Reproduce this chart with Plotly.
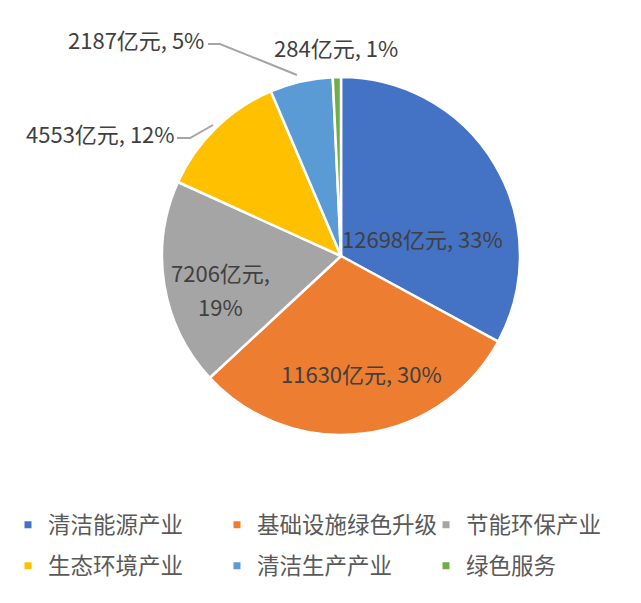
import plotly.graph_objects as go

W, H = 641, 603
OFF = 8  # page body margin in the browser

categories = ["清洁能源产业", "基础设施绿色升级", "节能环保产业", "生态环境产业", "清洁生产产业", "绿色服务"]
values = [12698, 11630, 7206, 4553, 2187, 284]
pct_labels = ["33%", "30%", "19%", "12%", "5%", "1%"]
colors = ["#4472C4", "#ED7D31", "#A5A5A5", "#FFC000", "#5B9BD5", "#70AD47"]

LABEL_FONT = "Noto Sans CJK SC, sans-serif"
LEGEND_FONT = "Noto Sans CJK SC, sans-serif"


def px(x, y):
    return (x - OFF) / W, 1 - (y - OFF) / H


fig = go.Figure()
fig.add_trace(go.Pie(
    labels=categories,
    values=values,
    sort=False,
    direction="clockwise",
    rotation=0,
    marker=dict(colors=colors, line=dict(color="white", width=2.5)),
    textinfo="none",
    hoverinfo="label+value+percent",
    showlegend=False,
    domain=dict(x=[(162 - OFF) / W, (520 - OFF) / W],
                y=[1 - (435 - OFF) / H, 1 - (77 - OFF) / H]),
))

# legend entries: small square markers, two rows of three
for i, (cat, col) in enumerate(zip(categories, colors)):
    fig.add_trace(go.Scatter(
        x=[None], y=[None], mode="markers", name=cat,
        marker=dict(symbol="square", size=7, color=col),
        legend="legend" if i < 3 else "legend2",
    ))

# label placement (pixel positions of each text line), text from the data arrays
label_pos = [
    [(423, 238)],
    [(362, 373)],
    [(220, 272), (220, 306)],
    [(100, 133)],
    [(136, 39)],
    [(336, 47)],
]
# leader lines (pixel points) for the labels pushed outside the pie
leaders = {
    3: [(177, 138), (190, 138), (213, 125)],
    4: [(208, 44), (220, 44), (297, 75)],
}

for i, (v, p, pos) in enumerate(zip(values, pct_labels, label_pos)):
    lines = [f"{v}亿元, {p}"] if len(pos) == 1 else [f"{v}亿元,", p]
    for txt, (x, y) in zip(lines, pos):
        fx, fy = px(x, y)
        fig.add_annotation(
            x=fx, y=fy, xref="paper", yref="paper", text=txt, showarrow=False,
            xanchor="center", yanchor="middle",
            font=dict(family=LABEL_FONT, size=22, color="#404040"),
        )
    if i in leaders:
        pts = [px(a, b) for a, b in leaders[i]]
        path = "M " + " L ".join(f"{a},{b}" for a, b in pts)
        fig.add_shape(type="path", path=path, xref="paper", yref="paper",
                      line=dict(color="#A5A5A5", width=2))

legend_style = dict(
    orientation="h",
    xanchor="left", yanchor="middle",
    entrywidth=164, entrywidthmode="pixels",
    font=dict(family=LEGEND_FONT, size=22.5, color="#595959"),
    itemwidth=30,
    bgcolor="rgba(0,0,0,0)",
)
_, ly1 = px(0, 525)
_, ly2 = px(0, 566)

fig.update_layout(
    width=W, height=H,
    margin=dict(l=0, r=0, t=0, b=0),
    paper_bgcolor="white",
    plot_bgcolor="white",
    xaxis=dict(visible=False),
    yaxis=dict(visible=False),
    legend=dict(x=0, y=ly1, **legend_style),
    legend2=dict(x=0, y=ly2, **legend_style),
)

fig.write_html("out.html")
